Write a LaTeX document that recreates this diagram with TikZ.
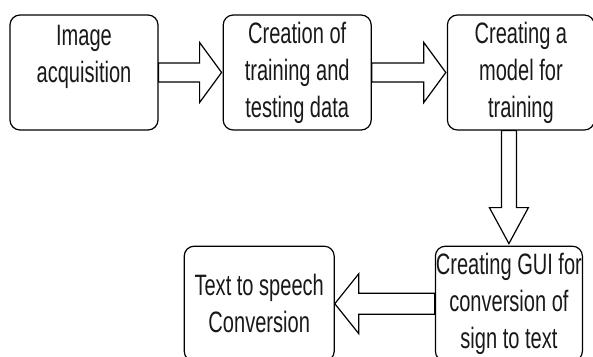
\documentclass[tikz,border=0pt]{standalone}
\usepackage{fontspec}
\setmainfont{Liberation Sans}[FakeStretch=0.68]
\usetikzlibrary{positioning,calc}

\begin{document}
\begin{tikzpicture}[x=1pt,y=-1pt,line width=1.2pt]
\tikzstyle{every node}=[font=\fontsize{29.5}{37}\selectfont, text=black!90]
\tikzstyle{stage}=[draw, rounded corners=10pt, minimum width=148pt, minimum height=115pt, inner sep=0pt, align=center]
\tikzstyle{blockarr}=[draw, fill=white, line join=miter]

\useasboundingbox (0,0) rectangle (593,356);

\node[stage]     (img) at (84,72.5)      {Image\\acquisition\\~};
\node[stage]     (data) [right=64pt of img] {Creation of\\training and\\testing data};
\node[stage, minimum width=147pt] (model) [right=75pt of data] {Creating a\\model for\\training};
\node[stage, minimum width=147pt] (gui) [below=115pt of model, xshift=-12pt] {Creating GUI for\\conversion of\\sign to text};
\node[stage, minimum width=150pt] (tts) [left=100pt of gui] {Text to speech\\Conversion};

% block arrows
\draw[blockarr] let \p1=(img.east), \p2=(data.west) in
  (\x1,\y1+9.5pt) -- (\x2-23pt,\y1+9.5pt) -- (\x2-23pt,\y1+30pt) -- (\x2-1pt,\y1)
  -- (\x2-23pt,\y1-30pt) -- (\x2-23pt,\y1-9.5pt) -- (\x1,\y1-9.5pt) -- cycle;
\draw[blockarr] let \p1=(data.east), \p2=(model.west) in
  (\x1,\y1+9.5pt) -- (\x2-23pt,\y1+9.5pt) -- (\x2-23pt,\y1+30pt) -- (\x2-1pt,\y1)
  -- (\x2-23pt,\y1-30pt) -- (\x2-23pt,\y1-9.5pt) -- (\x1,\y1-9.5pt) -- cycle;
\draw[blockarr] let \p1=(gui.north), \p2=(model.south) in
  (\x1-7.5pt,\y2) -- (\x1-7.5pt,\y1+38pt) -- (\x1-19.5pt,\y1+38pt) -- (\x1,\y1+2pt)
  -- (\x1+19.5pt,\y1+38pt) -- (\x1+7.5pt,\y1+38pt) -- (\x1+7.5pt,\y2) -- cycle;
\draw[blockarr] let \p1=(gui.west), \p2=(tts.east) in
  (\x1,\y1+10.5pt) -- (\x2+24pt,\y1+10.5pt) -- (\x2+24pt,\y1+30pt) -- (\x2,\y1)
  -- (\x2+24pt,\y1-30pt) -- (\x2+24pt,\y1-10.5pt) -- (\x1,\y1-10.5pt) -- cycle;
\end{tikzpicture}
\end{document}
